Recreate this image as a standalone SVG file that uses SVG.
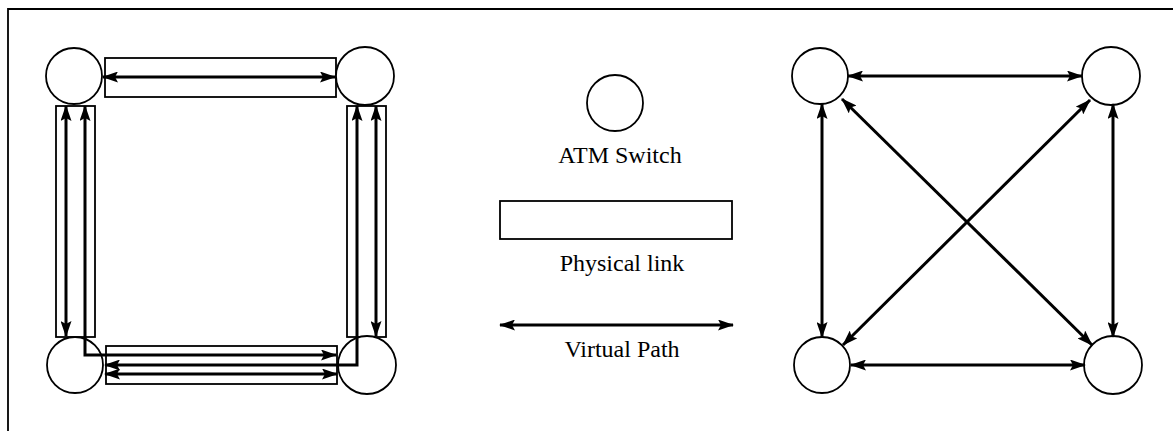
<svg xmlns="http://www.w3.org/2000/svg" width="1173" height="431" viewBox="0 0 1173 431">
<defs>
<marker id="ah" markerUnits="userSpaceOnUse" markerWidth="16" markerHeight="11" refX="15" refY="5.5" orient="auto-start-reverse" viewBox="0 0 16 11">
<path d="M0,0 L16,5.5 L0,11 L3,5.5 z" fill="#000"/>
</marker>
<style>
.node{fill:#fff;stroke:#000;stroke-width:1.8}
.link{fill:none;stroke:#000;stroke-width:1.8}
.vp{fill:none;stroke:#000;stroke-width:3;marker-start:url(#ah);marker-end:url(#ah)}
.lbl{font-family:"Liberation Serif","Times New Roman",serif;font-size:24px;fill:#000;text-anchor:middle}
.frame{fill:none;stroke:#000;stroke-width:1.8}
</style>
</defs>
<rect width="1173" height="431" fill="#fff"/>
<path class="frame" d="M8,431 V9 H1173"/>

<g id="physical-links">
<rect class="link" x="105" y="58" width="231" height="39"/>
<rect class="link" x="56" y="106" width="39" height="231"/>
<rect class="link" x="347" y="106" width="39" height="231"/>
<rect class="link" x="106" y="346" width="231" height="38"/>
</g>

<g id="left-switch-tl"><circle class="node" cx="74" cy="76" r="28"/></g>
<g id="left-switch-tr"><circle class="node" cx="365" cy="76" r="29"/></g>
<g id="left-switch-bl"><circle class="node" cx="75" cy="365" r="28"/></g>
<g id="left-switch-br"><circle class="node" cx="367" cy="365" r="29"/></g>

<g id="legend">
<g id="legend-switch"><circle class="node" cx="615" cy="103" r="28"/>
<text class="lbl" x="620" y="163">ATM Switch</text></g>
<g id="legend-link"><rect class="link" x="500" y="201" width="232" height="38"/>
<text class="lbl" x="622" y="271">Physical link</text></g>
<g id="legend-vp"><line class="vp" x1="500" y1="325" x2="733" y2="325"/>
<text class="lbl" x="622" y="357">Virtual Path</text></g>
</g>

<g id="right-switch-tl"><circle class="node" cx="820" cy="76" r="28"/></g>
<g id="right-switch-tr"><circle class="node" cx="1111" cy="76" r="29"/></g>
<g id="right-switch-bl"><circle class="node" cx="822" cy="365" r="28"/></g>
<g id="right-switch-br"><circle class="node" cx="1113" cy="365" r="29"/></g>

<g id="connectors">
<line class="vp" x1="103" y1="77" x2="335" y2="77"/>
<line class="vp" x1="66" y1="106" x2="66" y2="336"/>
<path class="vp" d="M85,106 V355 H336"/>
<line class="vp" x1="376" y1="106" x2="376" y2="336"/>
<path class="vp" d="M357,106 V365 H105"/>
<line class="vp" x1="105" y1="374" x2="337" y2="374"/>

<line class="vp" x1="848" y1="76" x2="1082" y2="76"/>
<line class="vp" x1="822" y1="104" x2="822" y2="337"/>
<line class="vp" x1="1113" y1="104" x2="1113" y2="337"/>
<line class="vp" x1="842" y1="99" x2="1092" y2="345"/>
<line class="vp" x1="1090" y1="100" x2="843" y2="345"/>
<line class="vp" x1="851" y1="365" x2="1085" y2="365"/>
</g>
</svg>
